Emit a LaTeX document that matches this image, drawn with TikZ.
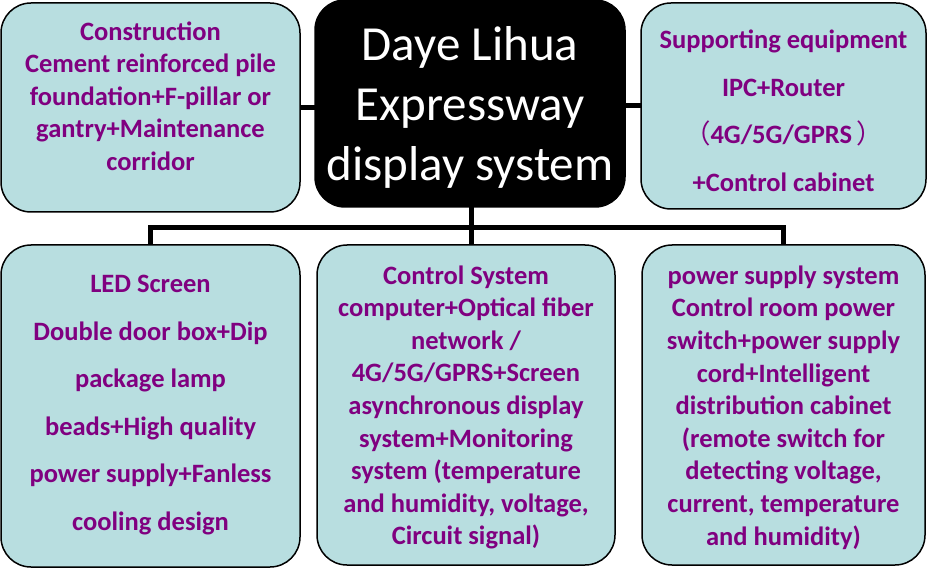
\documentclass[tikz,border=0pt]{standalone}
\usepackage{fontspec}
\setmainfont{Carlito}
\newfontfamily\cjkfont{Noto Sans CJK SC}
\definecolor{boxcyan}{HTML}{B8DEE0}
\definecolor{txtpurple}{HTML}{800080}
\tikzset{
  boxnode/.style={draw=black, line width=1.5pt, fill=boxcyan, rounded corners=30pt, inner sep=0pt, outer sep=0pt},
  txt/.style={text=txtpurple, align=center, inner sep=0pt, font=\bfseries\fontsize{26.5}{32.6}\selectfont},
  txtwide/.style={txt, font=\bfseries\fontsize{26.5}{47.5}\selectfont},
  conn/.style={draw=black, line width=5pt},
}
\begin{document}
\begin{tikzpicture}[x=1pt,y=-1pt]
\useasboundingbox[fill=white] (0,0) rectangle (928,569);
\node[boxnode, minimum width=299pt, minimum height=209pt] (tl) at (150.5,107.5) {};
\node[boxnode, minimum width=285pt, minimum height=206pt] (tr) at (783.5,106) {};
\node[boxnode, fill=black, minimum width=310pt, minimum height=207pt] (ctr) at (470,103.5) {};
\node[boxnode, minimum width=299pt, minimum height=322pt] (bl) at (150.5,406) {};
\node[boxnode, minimum width=298pt, minimum height=320pt] (bm) at (466,405) {};
\node[boxnode, minimum width=283pt, minimum height=320pt] (br) at (783.5,405) {};
\coordinate (busmid) at (471,228);
\draw[conn] (tl.east) -- (tl.east -| ctr.west);
\draw[conn] (tr.west) -- (tr.west -| ctr.east);
\draw[conn] (busmid |- ctr.south) -- (busmid |- bm.north);
\draw[conn] (bl.north) |- (busmid) -| (br.north);
\node[text=white, align=center, inner sep=0pt, font=\fontsize{49}{60}\selectfont] (ctrtxt) at (470,107) {Daye Lihua\\Expressway\\display system};
\node[txt] (tltxt) at (150.5,96) {Construction\\Cement reinforced pile\\foundation+F-pillar or\\gantry+Maintenance\\corridor};
\node[txtwide] (trtxt) at (783.5,111) {Supporting equipment\\IPC+Router\\{\cjkfont\mdseries （}4G/5G/GPRS\,{\cjkfont\mdseries ）}\\+Control cabinet};
\node[txtwide] (bltxt) at (150.5,405) {LED Screen\\Double door box+Dip\\package lamp\\beads+High quality\\power supply+Fanless\\cooling design};
\node[txt] (bmtxt) at (466,407.5) {Control System\\computer+Optical fiber\\network /\\4G/5G/GPRS+Screen\\asynchronous display\\system+Monitoring\\system (temperature\\and humidity, voltage,\\Circuit signal)};
\node[txt] (brtxt) at (783.5,407.5) {power supply system\\Control room power\\switch+power supply\\cord+Intelligent\\distribution cabinet\\(remote switch for\\detecting voltage,\\current, temperature\\and humidity)};
\end{tikzpicture}
\end{document}
